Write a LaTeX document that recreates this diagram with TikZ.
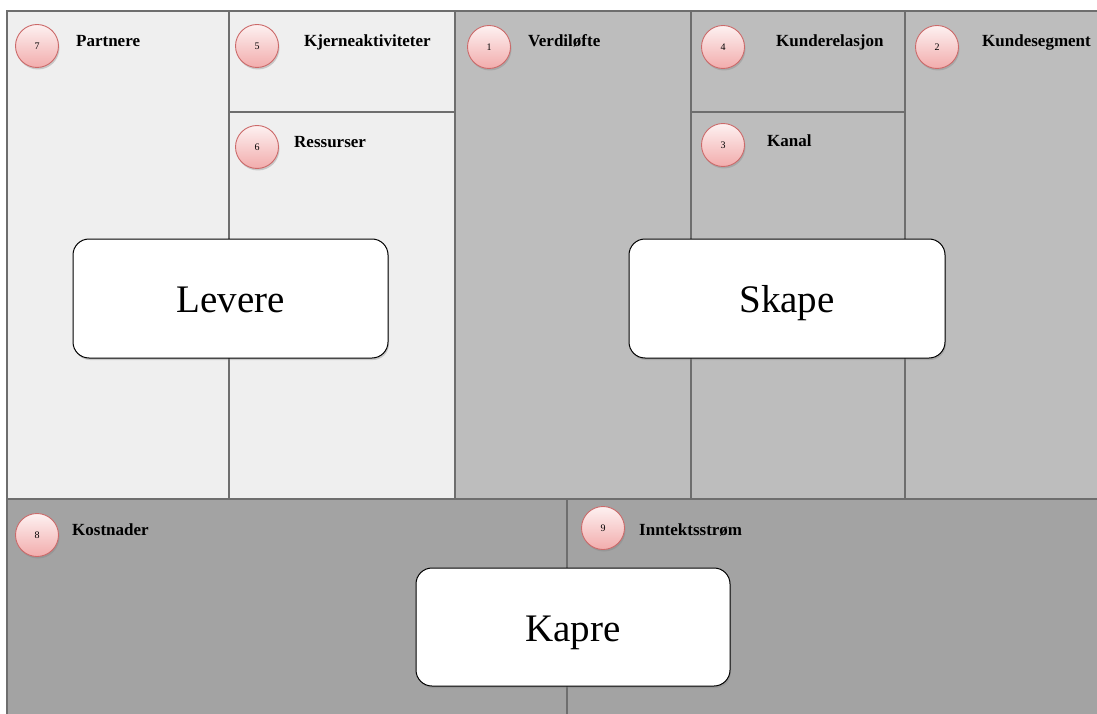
\documentclass[tikz,border=0pt]{standalone}
\usepackage{fontspec}
\setmainfont{Liberation Serif}
\usetikzlibrary{shadows}
\definecolor{cellLight}{HTML}{EFEFEF}
\definecolor{cellMid}{HTML}{BDBDBD}
\definecolor{cellDark}{HTML}{A3A3A3}
\definecolor{rule}{HTML}{6E6E6E}
\definecolor{pinkTop}{HTML}{FDF1F1}
\definecolor{pinkBot}{HTML}{F2ACAC}
\definecolor{pinkEdge}{HTML}{CC6A6A}
\tikzset{
  divider/.style={draw=rule, line width=1.2pt},
  badge/.style={circle, minimum size=43pt, inner sep=0pt, draw=pinkEdge, line width=0.9pt,
    top color=pinkTop, bottom color=pinkBot,
    drop shadow={shadow xshift=1pt, shadow yshift=-2pt, opacity=0.35},
    font=\fontsize{10}{12}\selectfont},
  heading/.style={anchor=base west, inner sep=0pt, font=\fontsize{17}{20}\selectfont\bfseries},
  phase/.style={rectangle, rounded corners=16pt, draw=black, line width=1pt, fill=white,
    minimum height=119pt, inner sep=0pt, text height=28pt, text depth=0pt,
    drop shadow={shadow xshift=1pt, shadow yshift=-2pt, opacity=0.35},
    font=\fontsize{39}{44}\selectfont}
}
\begin{document}
\begin{tikzpicture}[x=1pt,y=-1pt]
\useasboundingbox (0,0) rectangle (1097,714);
\fill[white] (0,0) rectangle (1097,714);
% cells
\fill[cellLight] (7,11) rectangle (455,499);
\fill[cellMid] (455,11) rectangle (1097,499);
\fill[cellDark] (7,499) rectangle (1097,714);
% frame and dividers
\draw[divider] (7,714) -- (7,11) -- (1097,11);
\draw[divider] (7,499) -- (1097,499);
\draw[divider] (229,11) -- (229,499);
\draw[divider] (455,11) -- (455,499);
\draw[divider] (691,11) -- (691,499);
\draw[divider] (905,11) -- (905,499);
\draw[divider] (567,499) -- (567,714);
\draw[divider] (229,112) -- (455,112);
\draw[divider] (691,112) -- (905,112);
% badges
\node[badge] (b7) at (37,46) {7};
\node[badge] (b5) at (257,46) {5};
\node[badge] (b6) at (257,147) {6};
\node[badge] (b1) at (489,47) {1};
\node[badge] (b4) at (723,47) {4};
\node[badge] (b2) at (937,47) {2};
\node[badge] (b3) at (723,145) {3};
\node[badge] (b8) at (37,535) {8};
\node[badge] (b9) at (603,528) {9};
% headings
\node[heading] (hPartnere) at (76,47) {Partnere};
\node[heading] (hKjerne) at (304,47) {Kjerneaktiviteter};
\node[heading] (hRessurser) at (294,148) {Ressurser};
\node[heading] (hVerdi) at (528,47) {Verdiløfte};
\node[heading] (hRelasjon) at (776,47) {Kunderelasjon};
\node[heading] (hSegment) at (982,47) {Kundesegment};
\node[heading] (hKanal) at (767,147) {Kanal};
\node[heading] (hKost) at (72,535) {Kostnader};
\node[heading] (hInntekt) at (639,535) {Inntektsstrøm};
% phase boxes
\node[phase, minimum width=315pt] (levere) at (230.5,298.5) {Levere};
\node[phase, minimum width=316pt] (skape) at (787,298.5) {Skape};
\node[phase, minimum width=314pt, minimum height=118pt] (kapre) at (573,627) {Kapre};
\end{tikzpicture}
\end{document}
